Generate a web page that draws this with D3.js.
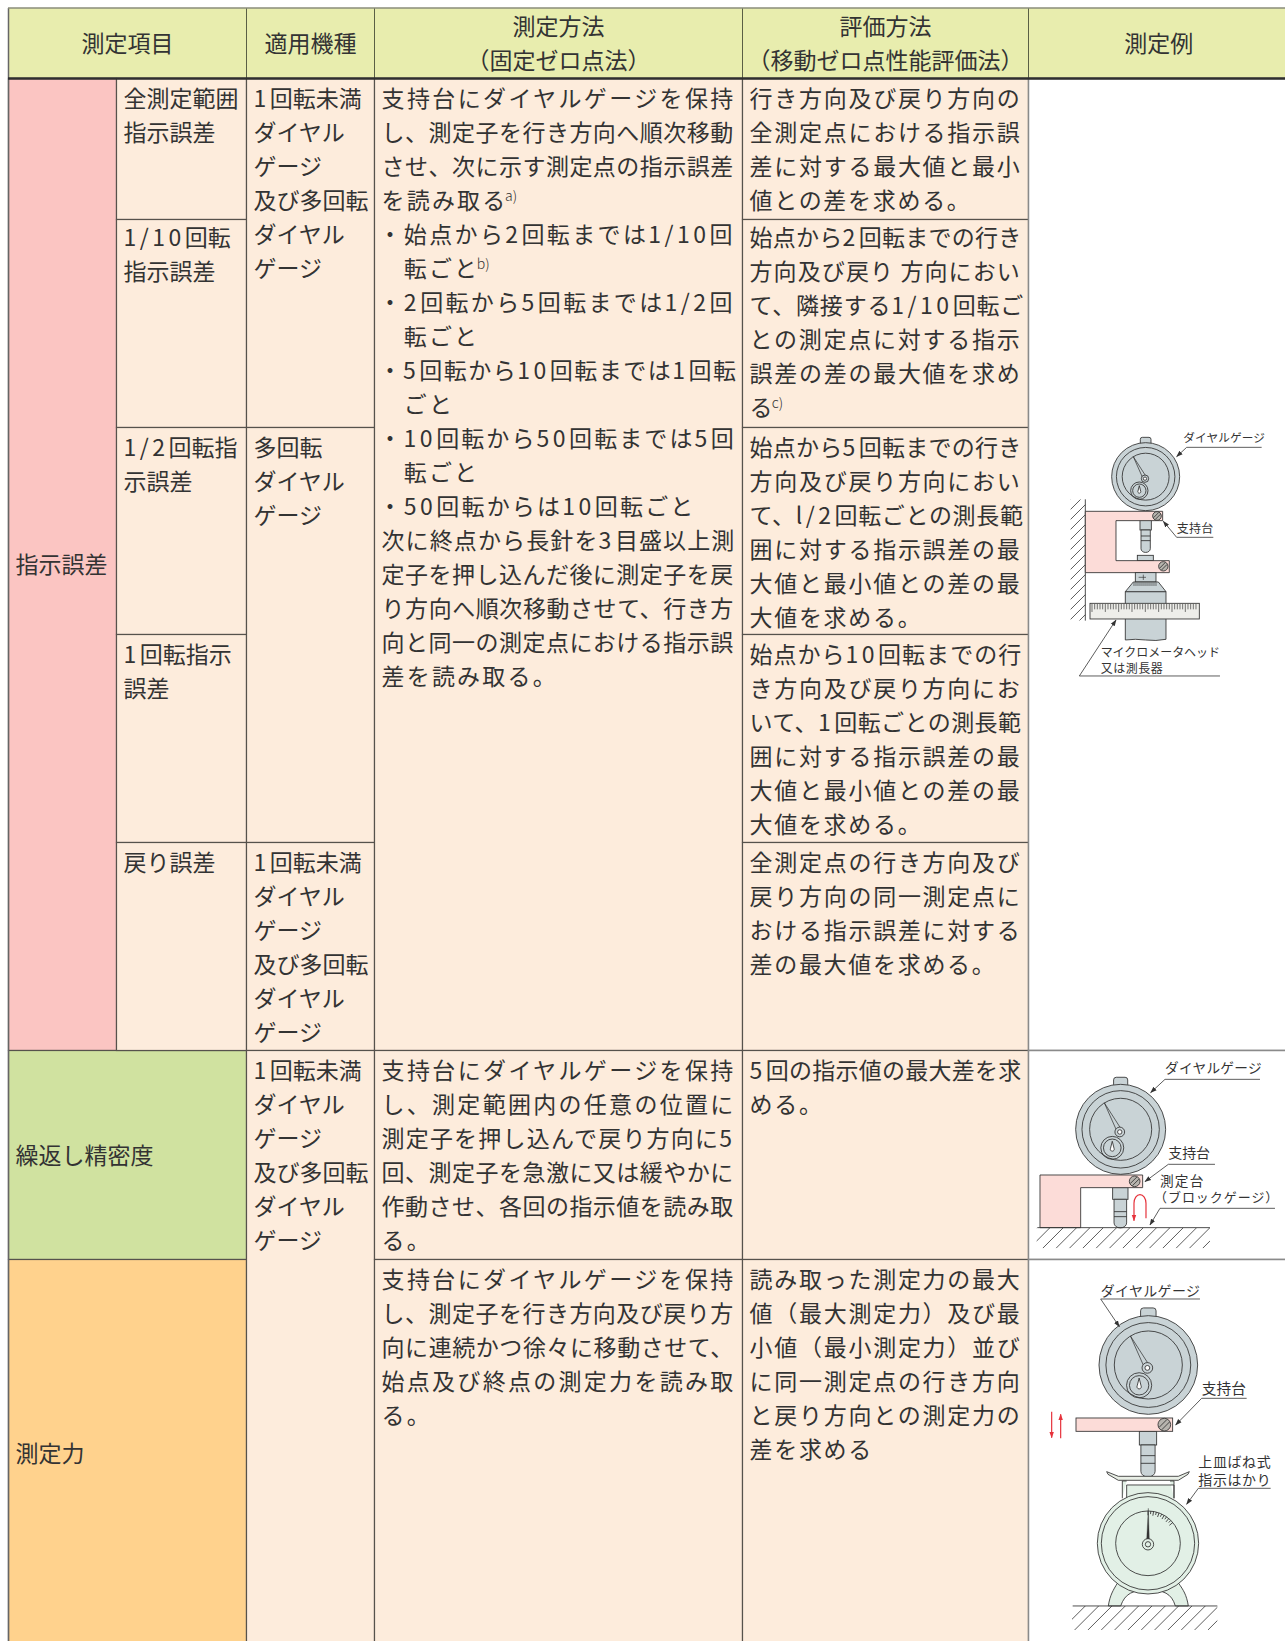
<!DOCTYPE html>
<html lang="ja">
<head>
<meta charset="utf-8">
<script src="https://cdn.jsdelivr.net/npm/d3@7"></script>
<style>
  html, body { margin: 0; padding: 0; background: #fff; }
  svg { display: block; }
  text { font-family: "Noto Sans CJK JP", "Noto Sans", sans-serif; fill: #333; }
</style>
</head>
<body>
<div id="chart-container"></div>
<script>
// TABLE TEXT ------------------------------
const headers = [
  ['測定項目'],
  ['適用機種'],
  ['測定方法', '（固定ゼロ点法）'],
  ['評価方法', '（移動ゼロ点性能評価法）'],
  ['測定例']
];
const groupLabels = ['指示誤差', '繰返し精密度', '測定力'];
const itemLabels = [
  ['全測定範囲', '指示誤差'],
  ['1/10回転', '指示誤差'],
  ['1/2回転指', '示誤差'],
  ['1回転指示', '誤差'],
  ['戻り誤差']
];
const modelAll = ['1回転未満', 'ダイヤル', 'ゲージ', '及び多回転', 'ダイヤル', 'ゲージ'];
const modelMulti = ['多回転', 'ダイヤル', 'ゲージ'];
const methodError = [
  '支持台にダイヤルゲージを保持',
  'し、測定子を行き方向へ順次移動',
  'させ、次に示す測定点の指示誤差',
  'を読み取る^a)',
  '・始点から2回転までは1/10回',
  '　転ごと^b)',
  '・2回転から5回転までは1/2回',
  '　転ごと',
  '・5回転から10回転までは1回転',
  '　ごと',
  '・10回転から50回転までは5回',
  '　転ごと',
  '・50回転からは10回転ごと',
  '次に終点から長針を3目盛以上測',
  '定子を押し込んだ後に測定子を戻',
  'り方向へ順次移動させて、行き方',
  '向と同一の測定点における指示誤',
  '差を読み取る。'
];
const methodRepeat = [
  '支持台にダイヤルゲージを保持',
  'し、測定範囲内の任意の位置に',
  '測定子を押し込んで戻り方向に5',
  '回、測定子を急激に又は緩やかに',
  '作動させ、各回の指示値を読み取',
  'る。'
];
const methodForce = [
  '支持台にダイヤルゲージを保持',
  'し、測定子を行き方向及び戻り方',
  '向に連続かつ徐々に移動させて、',
  '始点及び終点の測定力を読み取',
  'る。'
];
const evalLines = [
  ['行き方向及び戻り方向の', '全測定点における指示誤', '差に対する最大値と最小', '値との差を求める。'],
  ['始点から2回転までの行き', '方向及び戻り 方向におい', 'て、隣接する1/10回転ご', 'との測定点に対する指示', '誤差の差の最大値を求め', 'る^c)'],
  ['始点から5回転までの行き', '方向及び戻り方向におい', 'て、l/2回転ごとの測長範', '囲に対する指示誤差の最', '大値と最小値との差の最', '大値を求める。'],
  ['始点から10回転までの行', 'き方向及び戻り方向にお', 'いて、1回転ごとの測長範', '囲に対する指示誤差の最', '大値と最小値との差の最', '大値を求める。'],
  ['全測定点の行き方向及び', '戻り方向の同一測定点に', 'おける指示誤差に対する', '差の最大値を求める。'],
  ['5回の指示値の最大差を求', 'める。'],
  ['読み取った測定力の最大', '値（最大測定力）及び最', '小値（最小測定力）並び', 'に同一測定点の行き方向', 'と戻り方向との測定力の', '差を求める']
];

// LAYOUT ----------------------------------
const width = 1285, height = 1641;
const colEdges = [8.5, 116.5, 246.5, 374.5, 742.5, 1028.5, 1290];
const rowEdges = [78.5, 219.5, 427.5, 634.5, 842.5, 1050.5, 1259.5, 1650];
const fontSize = 23, lineGap = 34;
const xAt = d3.scaleOrdinal().domain(d3.range(colEdges.length)).range(colEdges);
const yAt = d3.scaleOrdinal().domain(d3.range(rowEdges.length)).range(rowEdges);

const peach = '#fdecdc', white = '#fff';

// c0,c1 / r0,r1 are column and row edge indexes
const cells = [
  { c0: 0, c1: 1, r0: 0, r1: 5, fill: '#fbc5c2', lines: [groupLabels[0]], mid: 564 },
  { c0: 0, c1: 2, r0: 5, r1: 6, fill: '#d0e2a0', lines: [groupLabels[1]], mid: 1155 },
  { c0: 0, c1: 2, r0: 6, r1: 7, fill: '#ffd28d', lines: [groupLabels[2]], mid: 1453 },
  ...itemLabels.map((lines, i) => ({ c0: 1, c1: 2, r0: i, r1: i + 1, fill: peach, lines })),
  { c0: 2, c1: 3, r0: 0, r1: 2, fill: peach, lines: modelAll },
  { c0: 2, c1: 3, r0: 2, r1: 4, fill: peach, lines: modelMulti },
  { c0: 2, c1: 3, r0: 4, r1: 5, fill: peach, lines: modelAll },
  { c0: 2, c1: 3, r0: 5, r1: 7, fill: peach, lines: modelAll },
  { c0: 3, c1: 4, r0: 0, r1: 5, fill: peach, lines: methodError, spacing: 2.2, justify: 354 },
  { c0: 3, c1: 4, r0: 5, r1: 6, fill: peach, lines: methodRepeat, spacing: 2.2, justify: 354 },
  { c0: 3, c1: 4, r0: 6, r1: 7, fill: peach, lines: methodForce, spacing: 2.2, justify: 354 },
  ...evalLines.map((lines, i) => ({ c0: 4, c1: 5, r0: i, r1: i + 1, fill: peach, lines, spacing: 1.7, justify: 272 })),
  { c0: 5, c1: 6, r0: 0, r1: 5, fill: white, lines: [], gray: true },
  { c0: 5, c1: 6, r0: 5, r1: 6, fill: white, lines: [], gray: true },
  { c0: 5, c1: 6, r0: 6, r1: 7, fill: white, lines: [], gray: true }
];

const svg = d3.select('#chart-container').append('svg')
  .attr('width', width)
  .attr('height', height);

// writes one line into a text node, digits get some air, ^x) is a superscript note
function fillLine(node, str) {
  const parts = str.split(/(\^[a-c]\)|[0-9l\/]+)/).filter(s => s !== '');
  parts.forEach(p => {
    if (p[0] === '^') {
      node.append('tspan')
        .attr('dy', -8).attr('dx', -2.5).attr('font-size', 14).attr('font-weight', 300).attr('letter-spacing', 0)
        .text(p.slice(1));
    } else if (/^[0-9l\/]/.test(p)) {
      node.append('tspan').attr('letter-spacing', 3.5).text(p);
    } else {
      node.append('tspan').text(p);
    }
  });
}

// HEADER ----------------------------------
const headerSpans = [[0, 2], [2, 3], [3, 4], [4, 5], [5, 6]];
svg.append('rect').attr('x', 8).attr('y', 8).attr('width', width - 8).attr('height', 70).attr('fill', '#e8edae');
const headerGroup = svg.selectAll('.header').data(headers).enter().append('g').attr('class', 'header');
headerGroup.append('line')
  .attr('x1', (d, i) => xAt(headerSpans[i][1])).attr('x2', (d, i) => xAt(headerSpans[i][1]))
  .attr('y1', 8).attr('y2', 78).attr('stroke', '#5a5f45');
headerGroup.selectAll('text').data((d, i) => d.map(t => ({ t, i, n: d.length }))).enter().append('text')
  .attr('x', d => {
    const right = d.i === 4 ? width + 4 : xAt(headerSpans[d.i][1]);
    return (xAt(headerSpans[d.i][0]) + right) / 2;
  })
  .attr('y', (d, j) => (d.n === 1 ? 43 : 26 + j * 34) + 8.5)
  .attr('text-anchor', 'middle')
  .attr('font-size', fontSize)
  .text(d => d.t);

// CELLS -----------------------------------
const cell = svg.selectAll('.cell').data(cells).enter().append('g').attr('class', 'cell');
cell.append('rect')
  .attr('x', d => xAt(d.c0))
  .attr('y', d => yAt(d.r0))
  .attr('width', d => xAt(d.c1) - xAt(d.c0))
  .attr('height', d => yAt(d.r1) - yAt(d.r0))
  .attr('fill', d => d.fill)
  .attr('stroke', d => d.gray ? '#8a8a8a' : '#56524c')
  .attr('stroke-width', d => d.gray ? 1.5 : 1.2);

cell.each(function (d) {
  const g = d3.select(this);
  const isGroup = d.mid !== undefined;
  const x0 = xAt(d.c0) + 7;
  // second row sits a bit higher in the reference
  const top = yAt(d.r0) + (d.r0 === 1 ? 18.3 : 19.5);
  d.lines.forEach((str, i) => {
    const lineX = /^[・　]/.test(str) ? x0 - 3 : x0;
    const y = isGroup ? d.mid : top + i * lineGap;
    const t = g.append('text')
      .attr('x', lineX)
      .attr('y', y + 8.5)
      .attr('font-size', fontSize)
      .attr('letter-spacing', d.spacing || 0);
    fillLine(t, str);
    // justify the full lines to the right edge of the cell
    if (d.justify && !str.endsWith('。')) {
      const target = d.justify + (x0 - lineX);
      const natural = t.node().getComputedTextLength();
      if (natural >= target * 0.92) {
        const count = Array.from(str).length;
        t.attr('letter-spacing', (d.spacing || 0) + (target - natural) / (count - 1));
      }
    }
  });
});

// rules on top of the fills
svg.append('line').attr('x1', 8.5).attr('x2', 8.5).attr('y1', 8).attr('y2', height).attr('stroke', '#666').attr('stroke-width', 1.5);
svg.append('line').attr('x1', 8).attr('x2', width).attr('y1', 8).attr('y2', 8).attr('stroke', '#8a8d7a').attr('stroke-width', 1.5);
svg.append('line').attr('x1', 8).attr('x2', width).attr('y1', 78.5).attr('y2', 78.5).attr('stroke', '#2f2f2f').attr('stroke-width', 2.5);

// ILLUSTRATIONS ---------------------------
// each one is drawn at 3x inside a group, so the strokes are 3 times as wide here
const ink = '#333', metal = '#c9d3d6', pinkPart = '#fcdcd8', mint = '#e2f0e6', red = '#e6333c';
const defs = svg.append('defs');
function addArrowMarker(id, color, size) {
  defs.append('marker').attr('id', id)
    .attr('viewBox', '0 0 10 10').attr('refX', 9).attr('refY', 5)
    .attr('markerWidth', size).attr('markerHeight', size).attr('markerUnits', 'userSpaceOnUse')
    .attr('orient', 'auto')
    .append('path').attr('d', 'M0,1.5L10,5L0,8.5Z').attr('fill', color);
}
addArrowMarker('leadArrow', ink, 20);
addArrowMarker('redArrow', red, 20);

const line = d3.line();

function shape(g, tag, attrs) {
  const el = g.append(tag).attr('stroke', ink).attr('stroke-width', 2.6).attr('fill', 'none');
  Object.keys(attrs).forEach(k => el.attr(k, attrs[k]));
  return el;
}

function gauge(g, cx, cy, r) {
  const k = r / 102;
  shape(g, 'rect', { x: cx - 16 * k, y: cy - 118 * k, width: 32 * k, height: 24 * k, rx: 6 * k, fill: metal });
  shape(g, 'circle', { cx, cy, r, fill: metal });
  shape(g, 'circle', { cx, cy, r: r * 0.86 });
  shape(g, 'circle', { cx, cy, r: r * 0.69 });
  const hx = cx - 2 * k, hy = cy + 6 * k;
  const tx = cx - 37 * k, ty = cy - 60 * k;
  shape(g, 'path', { d: `M${tx},${ty}L${hx - 8 * k},${hy - 5 * k}L${hx + 1 * k},${hy - 10 * k}Z`, fill: metal, 'stroke-width': 2.2 });
  shape(g, 'circle', { cx: hx, cy: hy, r: 11 * k, fill: metal });
  shape(g, 'circle', { cx: hx, cy: hy, r: 5 * k, fill: '#fff' });
  const sx = cx - 19 * k, sy = cy + 42 * k;
  shape(g, 'circle', { cx: sx, cy: sy, r: 26 * k });
  shape(g, 'circle', { cx: sx, cy: sy, r: 20 * k });
  shape(g, 'path', { d: `M${sx},${sy - 15 * k}L${sx + 4 * k},${sy + 1 * k}A${4.5 * k},${4.5 * k} 0 1 1 ${sx - 4 * k},${sy + 1 * k}Z`, fill: '#fff' });
}

function screw(g, cx, cy, r) {
  shape(g, 'circle', { cx, cy, r, fill: '#b7b4ae' });
  const a = r * 0.62, o = r * 0.2;
  shape(g, 'path', { d: line([[cx - a - o, cy + a - o], [cx + a - o, cy - a - o]]) });
  shape(g, 'path', { d: line([[cx - a + o, cy + a + o], [cx + a + o, cy - a + o]]) });
}

let clipCount = 0;
// 45 degree hatching clipped to a box
function hatch(g, x0, y0, x1, y1, step) {
  const id = 'hatch' + (clipCount++);
  const h = y1 - y0;
  defs.append('clipPath').attr('id', id).append('rect')
    .attr('x', x0).attr('y', y0).attr('width', x1 - x0).attr('height', h);
  const hg = g.append('g').attr('clip-path', `url(#${id})`);
  d3.range(x0 - h, x1 + step, step).forEach(x => {
    shape(hg, 'path', { d: line([[x, y1], [x + h, y0]]), 'stroke-width': 2.4 });
  });
}

function leader(g, pts, arrow) {
  shape(g, 'path', { d: line(pts), 'stroke-width': 2.4, 'marker-end': arrow ? 'url(#leadArrow)' : null });
}

function label(g, str, x, y, size, end) {
  const t = g.append('text').attr('x', x).attr('y', y + size * 0.36).attr('font-size', size).text(str);
  if (end) {
    t.attr('textLength', end - x).attr('lengthAdjust', 'spacing');
  }
}

function spindle(g, x0, x1, top, mid, tip, bands) {
  shape(g, 'rect', { x: x0, y: top, width: x1 - x0, height: mid - top, fill: metal });
  const inset = (x1 - x0) * 0.09;
  const r = (x1 - x0) / 2 - inset;
  shape(g, 'path', { d: `M${x0 + inset},${mid}V${tip - r * 0.7}A${r},${r * 0.8} 0 0 0 ${x1 - inset},${tip - r * 0.7}V${mid}Z`, fill: metal });
  bands.forEach(y => shape(g, 'line', { x1: x0 + inset, x2: x1 - inset, y1: y, y2: y }));
}

// first one: dial gauge clamped on the wall bracket
const fig1 = svg.append('g').attr('transform', 'translate(1030,410) scale(0.3333)');
hatch(fig1, 122, 268, 166, 632, 30);
shape(fig1, 'line', { x1: 166, x2: 166, y1: 268, y2: 632 });
spindle(fig1, 330, 364, 330, 360, 426, [378, 392]);
shape(fig1, 'rect', { x: 322, y: 436, width: 48, height: 16, fill: metal });
gauge(fig1, 347, 200, 102);
shape(fig1, 'path', { d: 'M166,304H398V332H258V452H418V488H166Z', fill: pinkPart });
screw(fig1, 381, 318, 13);
screw(fig1, 400, 469, 14);
shape(fig1, 'rect', { x: 316, y: 488, width: 62, height: 28, fill: metal });
shape(fig1, 'path', { d: 'M326,502H348M340,494V510', 'stroke-width': 2 });
shape(fig1, 'path', { d: 'M286,545V690Q316,686 347,690T408,688V545Z', fill: metal });
shape(fig1, 'path', { d: 'M310,516H385L408,545H286Z', fill: metal });
d3.range(312, 384, 6).forEach(x => shape(fig1, 'line', { x1: x, x2: x, y1: 517, y2: 528, 'stroke-width': 2 }));
shape(fig1, 'rect', { x: 180, y: 580, width: 328, height: 47, fill: '#eeeeea' });
d3.range(186, 506, 8).forEach((x, i) => shape(fig1, 'line', { x1: x, x2: x, y1: 582, y2: i % 5 === 0 ? 606 : 598, 'stroke-width': 2 }));
label(fig1, 'ダイヤルゲージ', 460, 84, 35, 705);
leader(fig1, [[695, 112], [470, 112], [440, 140]], true);
label(fig1, '支持台', 440, 355, 36, 550);
leader(fig1, [[550, 382], [440, 382], [400, 334]], true);
label(fig1, 'マイクロメータヘッド', 212, 728, 36, 570);
label(fig1, '又は測長器', 212, 775, 36, 398);
leader(fig1, [[570, 798], [148, 798], [258, 630]], true);

// second one: repeatability on a block gauge
const fig2 = svg.append('g').attr('transform', 'translate(1030,1040) scale(0.3333)');
hatch(fig2, 20, 563, 540, 625, 40);
spindle(fig2, 248, 294, 443, 478, 562, [515, 530]);
gauge(fig2, 272, 268, 135);
shape(fig2, 'path', { d: 'M30,405H338V443H152V563H30Z', fill: pinkPart });
screw(fig2, 314, 424, 16);
shape(fig2, 'line', { x1: 22, x2: 540, y1: 563, y2: 563 });
shape(fig2, 'path', { d: 'M348,535V490A18,26 0 0 0 312,490V542', stroke: red, 'stroke-width': 3.6, 'marker-end': 'url(#redArrow)' });
label(fig2, 'ダイヤルゲージ', 405, 85, 41, 695);
leader(fig2, [[690, 118], [405, 118], [362, 158]], true);
label(fig2, '支持台', 415, 340, 42, 540);
leader(fig2, [[555, 373], [415, 373], [345, 425]], true);
label(fig2, '測定台', 390, 424, 41, 520);
label(fig2, '（ブロックゲージ）', 372, 472, 39, 745);
leader(fig2, [[735, 505], [390, 505], [360, 555]], true);

// third one: measuring force on the spring scale
const fig3 = svg.append('g').attr('transform', 'translate(1030,1265) scale(0.3333)');
hatch(fig3, 126, 1023, 562, 1095, 40);
shape(fig3, 'path', { d: 'M235,1023C240,990 250,975 262,955H446C460,975 470,990 475,1023H436C425,985 400,975 354,975C310,975 285,985 272,1023Z', fill: mint });
shape(fig3, 'line', { x1: 128, x2: 562, y1: 1023, y2: 1023 });
shape(fig3, 'path', { d: 'M277,700V648H290M432,700V648H420M290,700V660H432V700', fill: mint });
spindle(fig3, 328, 380, 499, 540, 634, [572, 595]);
gauge(fig3, 355, 300, 148);
shape(fig3, 'rect', { x: 138, y: 459, width: 290, height: 40, fill: pinkPart });
screw(fig3, 403, 479, 19);
shape(fig3, 'path', { d: 'M230,620L265,634H445L478,620L474,628L445,646H265L234,628Z', fill: '#e9efe6' });
shape(fig3, 'circle', { cx: 354, cy: 835, r: 152, fill: mint });
shape(fig3, 'circle', { cx: 354, cy: 835, r: 140 });
shape(fig3, 'circle', { cx: 354, cy: 835, r: 97 });
d3.range(0, 52, 5).forEach((deg, i) => {
  const a = deg * Math.PI / 180, r0 = 97, r1 = i % 2 ? 88 : 84;
  shape(fig3, 'line', {
    x1: 354 + r0 * Math.sin(a), y1: 835 - r0 * Math.cos(a),
    x2: 354 + r1 * Math.sin(a), y2: 835 - r1 * Math.cos(a)
  });
});
shape(fig3, 'path', { d: 'M355,730L350,825H358Z', fill: ink, 'stroke-width': 1 });
shape(fig3, 'circle', { cx: 354, cy: 838, r: 17, fill: mint });
shape(fig3, 'circle', { cx: 354, cy: 838, r: 8 });
shape(fig3, 'path', { d: 'M65,440V518', stroke: red, 'stroke-width': 3.6, 'marker-end': 'url(#redArrow)' });
shape(fig3, 'path', { d: 'M92,520V448', stroke: red, 'stroke-width': 3.6, 'marker-end': 'url(#redArrow)' });
label(fig3, 'ダイヤルゲージ', 212, 78, 42, 510);
leader(fig3, [[510, 102], [212, 102], [268, 185]], true);
label(fig3, '支持台', 515, 372, 44, 648);
leader(fig3, [[650, 400], [515, 400], [437, 480]], true);
label(fig3, '上皿ばね式', 505, 592, 42, 722);
label(fig3, '指示はかり', 505, 645, 42, 722);
leader(fig3, [[722, 670], [505, 670], [470, 718]], true);
</script>
</body>
</html>
